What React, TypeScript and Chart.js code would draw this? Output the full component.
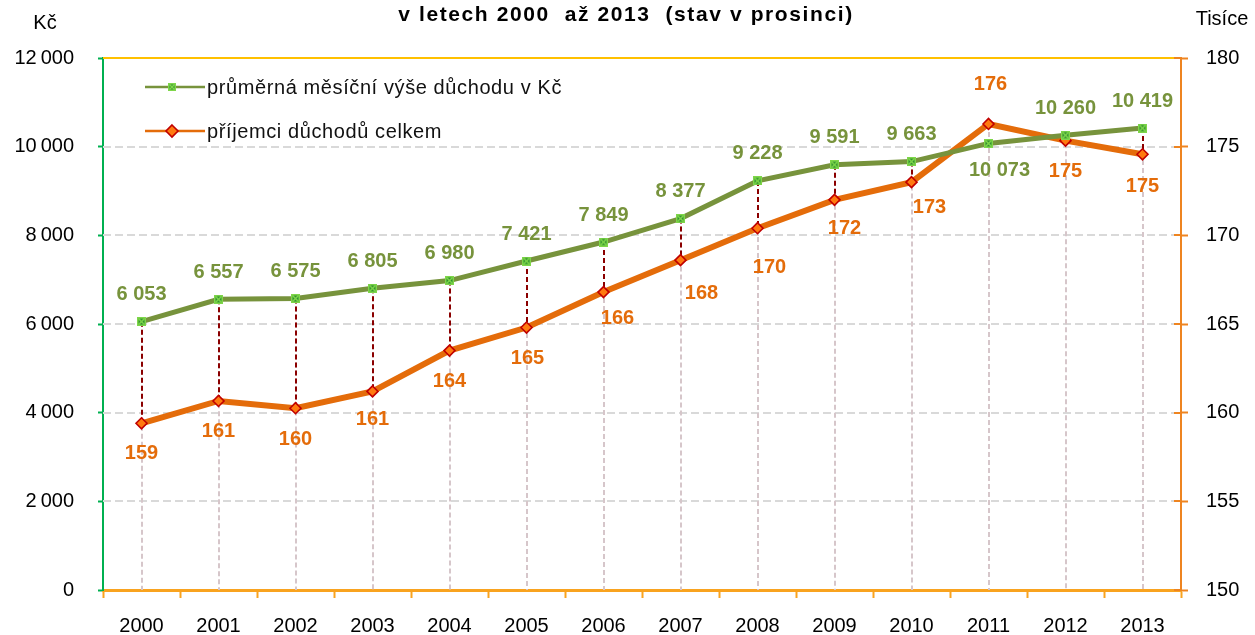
import React, { useEffect, useRef } from 'react';
import { Chart, registerables } from 'chart.js';

Chart.register(...registerables);

// ---- data ----
const years = ['2000', '2001', '2002', '2003', '2004', '2005', '2006', '2007', '2008', '2009', '2010', '2011', '2012', '2013'];
const avgPension = [6053, 6557, 6575, 6805, 6980, 7421, 7849, 8377, 9228, 9591, 9663, 10073, 10260, 10419];
const recipients = [159.4, 160.66, 160.25, 161.2, 163.5, 164.8, 166.8, 168.6, 170.4, 172.0, 173.0, 176.28, 175.34, 174.57];
const recipientLabels = [159, 161, 160, 161, 164, 165, 166, 168, 170, 172, 173, 176, 175, 175];
const leftAxis = { min: 0, max: 12000, step: 2000 };
const rightAxis = { min: 150, max: 180, step: 5 };
const seriesNames = ['průměrná měsíční výše důchodu v Kč', 'příjemci důchodů celkem'];
const titleText = 'v letech 2000  až 2013  (stav v prosinci)';
const leftAxisTitle = 'Kč';
const rightAxisTitle = 'Tisíce';

// ---- styling (label placement offsets, px) ----
const greenLabelOffsets: [number, number][] = [
  [0, -27], [0, -27], [0, -27], [0, -27], [0, -27], [0, -27], [0, -27],
  [0, -27], [0, -27], [0, -27], [0, -27], [11, 27], [0, -27], [0, -27],
];
const orangeLabelOffsets: [number, number][] = [
  [0, 30], [0, 31], [0, 31], [0, 28], [0, 31], [1, 31], [14, 26],
  [21, 33], [12, 39], [10, 29], [18, 25], [2, -39], [0, 31], [0, 32],
];

const GREEN = '#77933C';
const ORANGE = '#E46C0A';
const FONT = "'Liberation Sans', Arial, sans-serif";

function fmt(n: number, sep: string) {
  return String(n).replace(/\B(?=(\d{3})+(?!\d))/g, sep);
}

function makeGreenMarker(size: number) {
  const c = document.createElement('canvas');
  c.width = size;
  c.height = size;
  const g = c.getContext('2d')!;
  g.fillStyle = '#2F8F2F';
  g.fillRect(0, 0, size, size);
  g.strokeStyle = '#7FD64A';
  g.lineWidth = 1.5;
  g.strokeRect(0.75, 0.75, size - 1.5, size - 1.5);
  g.beginPath();
  g.moveTo(1.5, 1.5);
  g.lineTo(size - 1.5, size - 1.5);
  g.moveTo(size - 1.5, 1.5);
  g.lineTo(1.5, size - 1.5);
  g.stroke();
  return c;
}

function drawDiamond(ctx: CanvasRenderingContext2D, x: number, y: number, r: number) {
  ctx.save();
  ctx.beginPath();
  ctx.moveTo(x, y - r);
  ctx.lineTo(x + r, y);
  ctx.lineTo(x, y + r);
  ctx.lineTo(x - r, y);
  ctx.closePath();
  ctx.fillStyle = '#FF7A10';
  ctx.fill();
  ctx.strokeStyle = '#C00000';
  ctx.lineWidth = 1.6;
  ctx.stroke();
  ctx.restore();
}

const decorPlugin = {
  id: 'decor',
  beforeDatasetsDraw(chart: any) {
    const { ctx, chartArea: a, scales } = chart;
    const y = scales.y;
    ctx.save();
    // horizontal gridlines
    ctx.strokeStyle = '#D9D9D9';
    ctx.lineWidth = 2;
    ctx.setLineDash([8, 4]);
    for (let v = leftAxis.min + leftAxis.step; v < leftAxis.max; v += leftAxis.step) {
      const py = Math.round(y.getPixelForValue(v));
      ctx.beginPath();
      ctx.moveTo(a.left, py);
      ctx.lineTo(a.right, py);
      ctx.stroke();
    }
    // drop lines & high-low lines
    const m0 = chart.getDatasetMeta(0);
    const m1 = chart.getDatasetMeta(1);
    for (let i = 0; i < years.length; i++) {
      const p0 = m0.data[i];
      const p1 = m1.data[i];
      const px = Math.round(p0.x);
      const top = Math.min(p0.y, p1.y);
      ctx.strokeStyle = '#D6C6CA';
      ctx.lineWidth = 2;
      ctx.setLineDash([5, 3]);
      ctx.beginPath();
      ctx.moveTo(px, top);
      ctx.lineTo(px, a.bottom);
      ctx.stroke();
      if (p0.y < p1.y) {
        ctx.strokeStyle = '#8B0000';
        ctx.setLineDash([5, 3]);
        ctx.beginPath();
        ctx.moveTo(px, p0.y);
        ctx.lineTo(px, p1.y);
        ctx.stroke();
      }
    }
    ctx.restore();
  },
  afterDatasetsDraw(chart: any) {
    const { ctx, chartArea: a, scales } = chart;
    ctx.save();
    // top border
    ctx.strokeStyle = '#FFC000';
    ctx.lineWidth = 2;
    ctx.beginPath();
    ctx.moveTo(a.left, a.top);
    ctx.lineTo(a.right, a.top);
    ctx.stroke();
    // inner ticks on right axis
    ctx.strokeStyle = '#EE8420';
    ctx.lineWidth = 2;
    for (let v = rightAxis.min; v <= rightAxis.max; v += rightAxis.step) {
      const py = Math.round(scales.y1.getPixelForValue(v));
      ctx.beginPath();
      ctx.moveTo(a.right - 7, py);
      ctx.lineTo(a.right, py);
      ctx.stroke();
    }
    // data labels
    const m0 = chart.getDatasetMeta(0);
    const m1 = chart.getDatasetMeta(1);
    ctx.font = `bold 20px ${FONT}`;
    ctx.textAlign = 'center';
    ctx.textBaseline = 'middle';
    for (let i = 0; i < years.length; i++) {
      const p0 = m0.data[i];
      const [dx0, dy0] = greenLabelOffsets[i];
      ctx.fillStyle = GREEN;
      ctx.fillText(fmt(avgPension[i], ' '), p0.x + dx0, p0.y + dy0);
      const p1 = m1.data[i];
      const [dx1, dy1] = orangeLabelOffsets[i];
      ctx.fillStyle = ORANGE;
      ctx.fillText(String(recipientLabels[i]), p1.x + dx1, p1.y + dy1);
    }
    // title & axis titles
    ctx.fillStyle = '#000';
    ctx.font = `bold 21px ${FONT}`;
    (ctx as any).letterSpacing = '1.6px';
    ctx.textBaseline = 'alphabetic';
    ctx.fillText(titleText, 626, 21);
    (ctx as any).letterSpacing = '0px';
    ctx.textBaseline = 'middle';
    ctx.font = `20px ${FONT}`;
    ctx.fillText(leftAxisTitle, 45, 23);
    ctx.fillText(rightAxisTitle, 1222, 19);
    // legend
    const rows = [87, 131];
    ctx.lineWidth = 2.5;
    ctx.strokeStyle = GREEN;
    ctx.beginPath();
    ctx.moveTo(145, rows[0]);
    ctx.lineTo(205, rows[0]);
    ctx.stroke();
    ctx.drawImage(makeGreenMarker(8), 168, rows[0] - 4);
    ctx.strokeStyle = ORANGE;
    ctx.beginPath();
    ctx.moveTo(145, rows[1]);
    ctx.lineTo(205, rows[1]);
    ctx.stroke();
    drawDiamond(ctx, 172, rows[1], 6);
    ctx.fillStyle = '#111';
    ctx.font = `20px ${FONT}`;
    (ctx as any).letterSpacing = '0.6px';
    ctx.textAlign = 'left';
    ctx.fillText(seriesNames[0], 207, rows[0] + 1);
    ctx.fillText(seriesNames[1], 207, rows[1] + 1);
    (ctx as any).letterSpacing = '0px';
    ctx.restore();
  },
};

export default function App() {
  const ref = useRef<HTMLCanvasElement | null>(null);
  useEffect(() => {
    if (!ref.current) return;
    const greenMarker = makeGreenMarker(9);
    const chart = new Chart(ref.current, {
      type: 'line',
      data: {
        labels: years,
        datasets: [
          {
            label: seriesNames[0],
            data: avgPension,
            yAxisID: 'y',
            borderColor: GREEN,
            borderWidth: 5,
            pointStyle: greenMarker as any,
            pointRadius: 5,
            tension: 0,
          },
          {
            label: seriesNames[1],
            data: recipients,
            yAxisID: 'y1',
            borderColor: ORANGE,
            borderWidth: 6,
            pointStyle: 'rectRot',
            pointRadius: 5.5,
            pointBackgroundColor: '#FF7A10',
            pointBorderColor: '#C00000',
            pointBorderWidth: 1.6,
            tension: 0,
          },
        ],
      },
      options: {
        responsive: false,
        animation: false,
        devicePixelRatio: 1,
        layout: { padding: { top: 58, left: 0, right: 0, bottom: 0 } },
        plugins: { legend: { display: false }, tooltip: { enabled: false }, title: { display: false } },
        scales: {
          x: {
            type: 'category',
            offset: true,
            grid: { offset: true, drawOnChartArea: false, drawTicks: true, tickLength: 8, tickColor: '#F9A31F', tickWidth: 2 },
            border: { color: '#F9A31F', width: 3 },
            ticks: { color: '#000', font: { family: FONT, size: 20 }, padding: 16, maxRotation: 0, autoSkip: false },
            afterFit: (s: any) => { s.height = 45; },
          },
          y: {
            position: 'left',
            min: leftAxis.min,
            max: leftAxis.max,
            ticks: {
              stepSize: leftAxis.step,
              color: '#000',
              font: { family: FONT, size: 20 },
              padding: 24,
              callback: (v: any) => fmt(Number(v), '\u2009'),
            },
            grid: { drawOnChartArea: false, drawTicks: true, tickLength: 5, tickColor: '#00B050', tickWidth: 2 },
            border: { color: '#00B050', width: 2 },
            afterFit: (s: any) => { s.width = 103; },
          },
          y1: {
            position: 'right',
            min: rightAxis.min,
            max: rightAxis.max,
            ticks: { stepSize: rightAxis.step, color: '#000', font: { family: FONT, size: 20 }, padding: 18 },
            grid: { drawOnChartArea: false, drawTicks: true, tickLength: 7, tickColor: '#EE8420', tickWidth: 2 },
            border: { color: '#EE8420', width: 2 },
            afterFit: (s: any) => { s.width = 74; },
          },
        },
      },
      plugins: [decorPlugin],
    });
    return () => chart.destroy();
  }, []);
  return (
    <div style={{ position: 'absolute', left: 0, top: 0, width: 1255, height: 635, background: '#fff' }}>
      <canvas ref={ref} width={1255} height={635} style={{ display: 'block' }} />
    </div>
  );
}
